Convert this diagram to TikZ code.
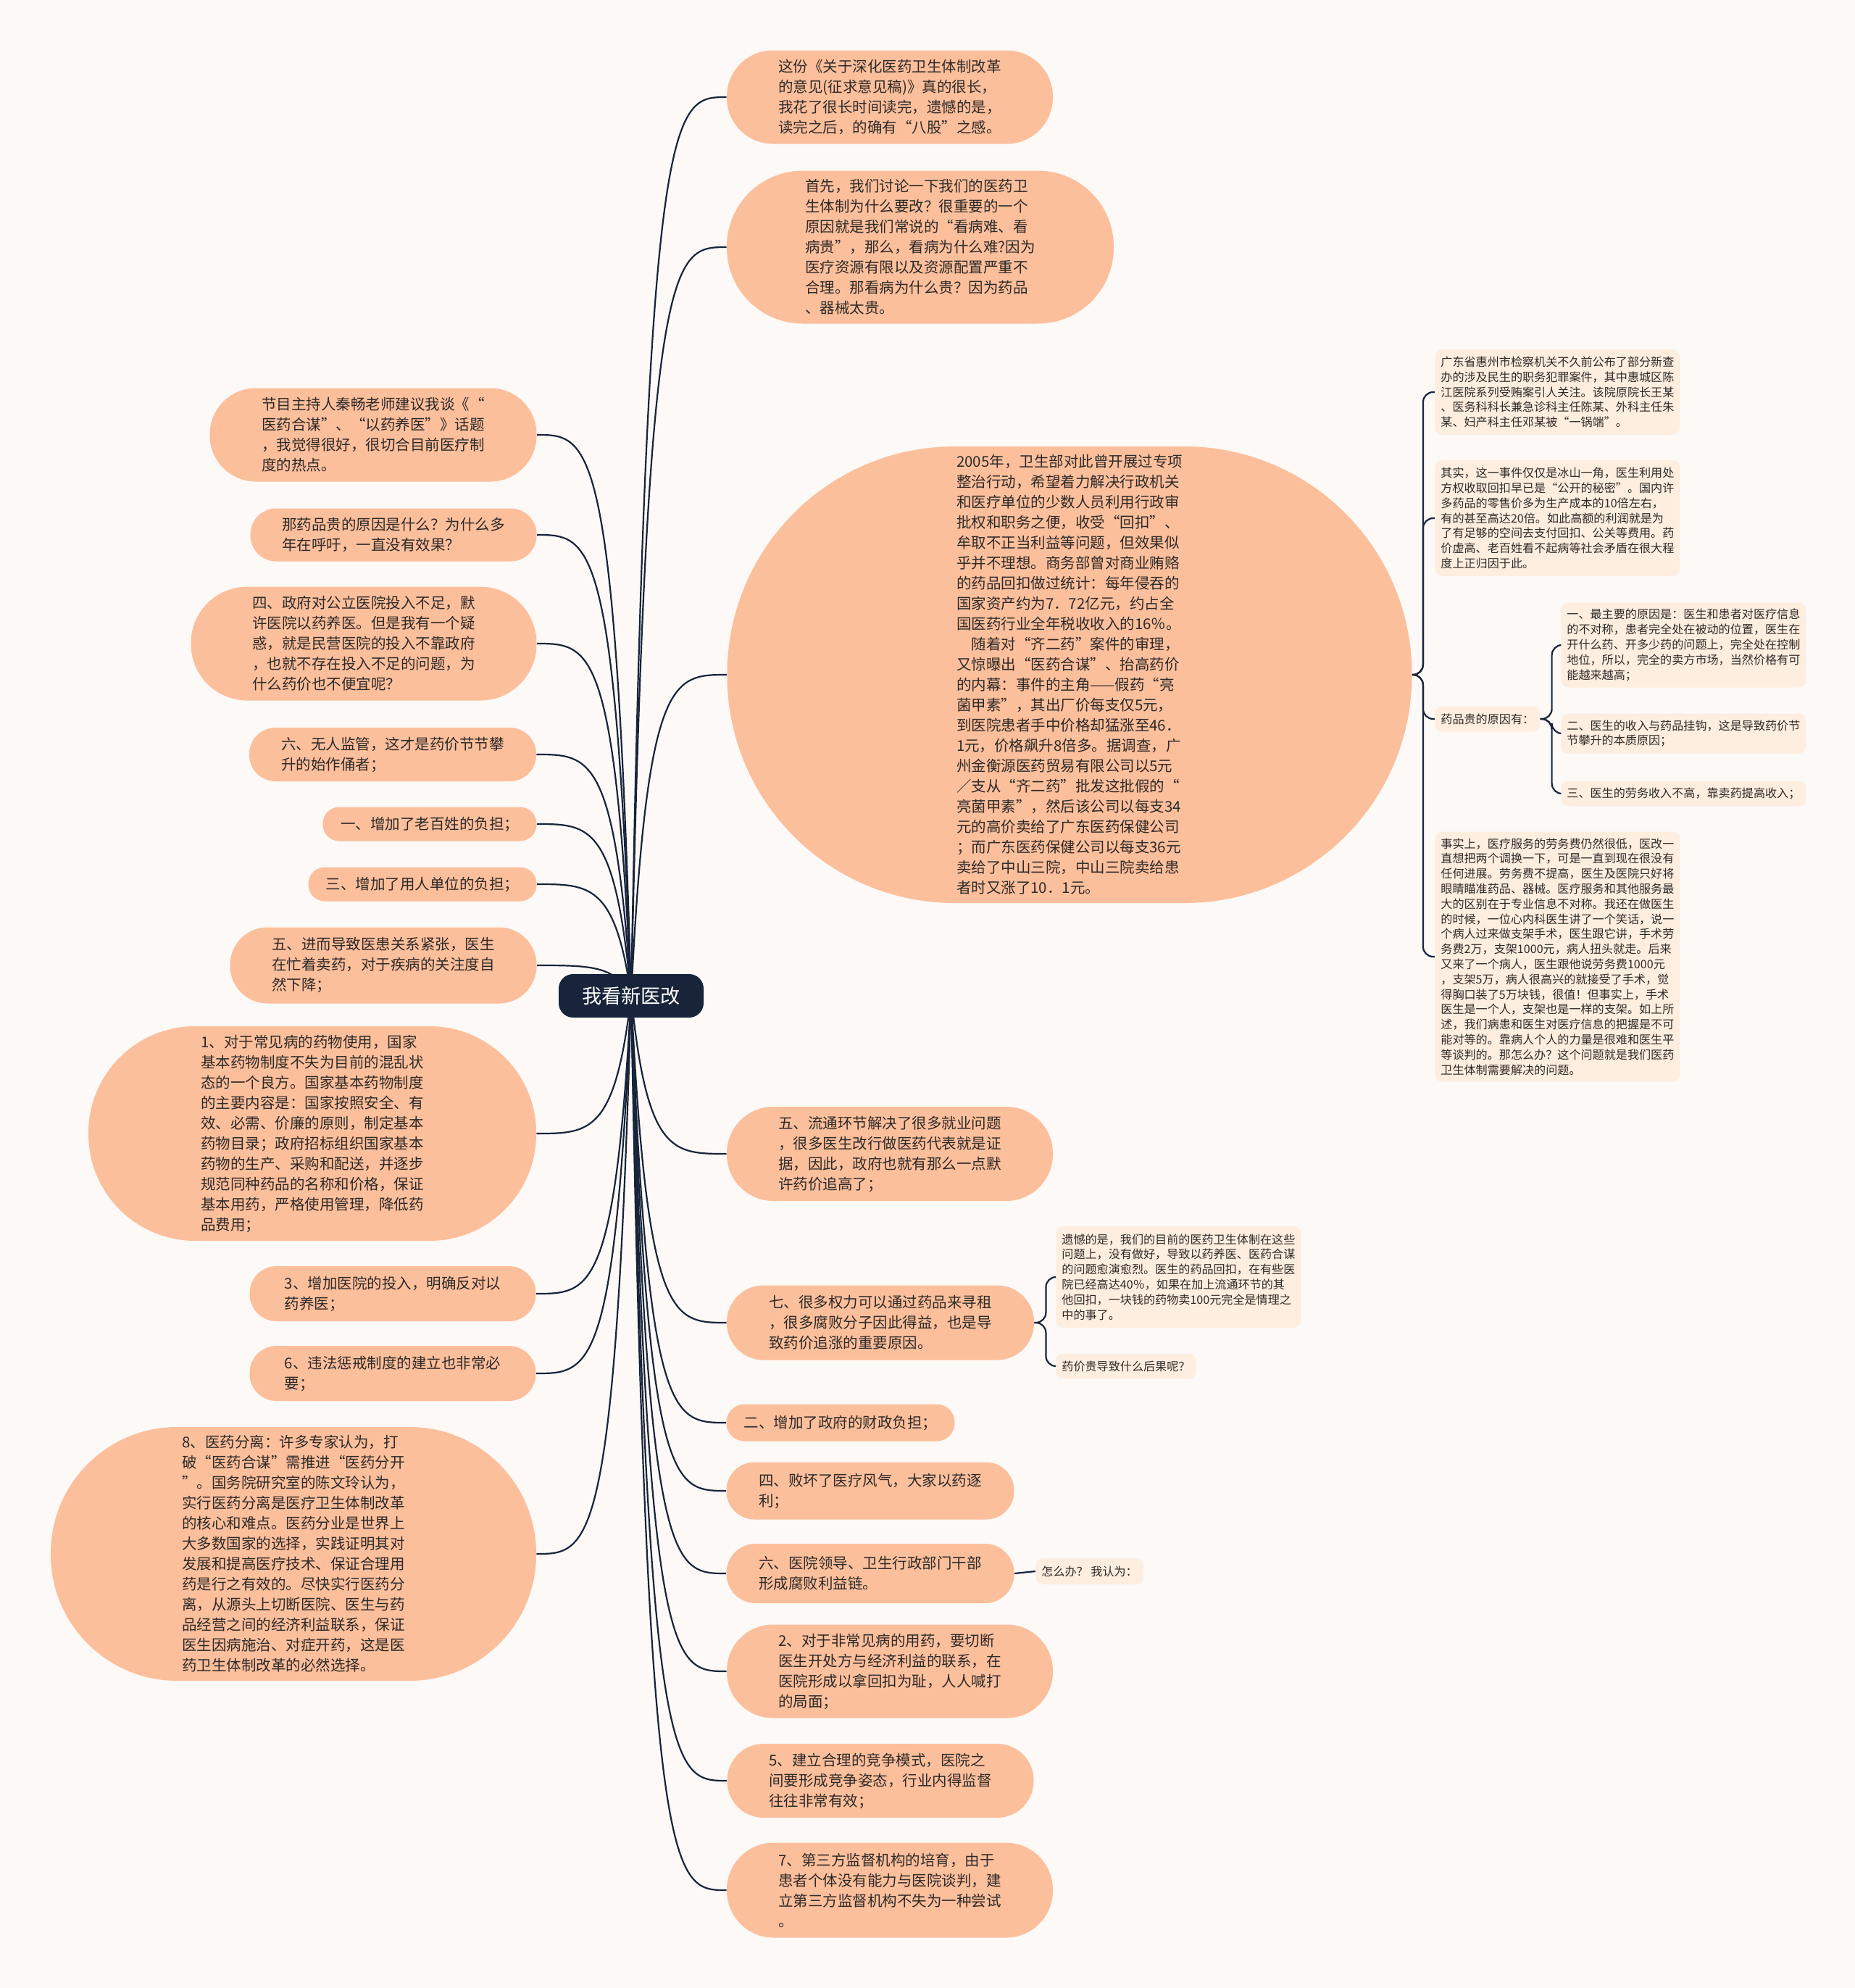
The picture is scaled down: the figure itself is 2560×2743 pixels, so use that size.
\documentclass[tikz,border=0pt]{standalone}
\usepackage{fontspec}
\setmainfont{Noto Sans CJK SC}
\usetikzlibrary{calc}
\definecolor{bgC}{HTML}{FCF9F7}
\definecolor{peach}{HTML}{FCBF9C}
\definecolor{lightC}{HTML}{FEEEDF}
\definecolor{rootC}{HTML}{17243A}
\definecolor{lineC}{HTML}{17243A}
\definecolor{txtC}{HTML}{2E2A28}
\newcommand\mainfs{\fontsize{10.25pt}{14pt}\selectfont}
\newcommand\smallfs{\fontsize{8.05pt}{10.4pt}\selectfont}
\newcommand\rootfs{\fontsize{13.6pt}{16pt}\selectfont}
\pgfdeclarelayer{back}
\pgfdeclarelayer{edges}
\pgfsetlayers{back,edges,main}
\tikzset{
  conn/.style={draw=lineC, line width=1.1pt},
  pk/.style n args={2}{fill=peach, text=txtC, font=\mainfs, align=left, inner sep=0pt,
    minimum width=#1*0.5pt, minimum height=#2*0.5pt, rounded corners=#2*0.25pt-0.4pt},
  lt/.style={fill=lightC, text=txtC, font=\smallfs, align=left, inner xsep=4pt, inner ysep=0pt,
    rounded corners=5pt, anchor=west, minimum height=#1*0.5pt},
  rootbox/.style={fill=rootC, text=white, font=\rootfs, inner sep=0pt,
    minimum width=100pt, minimum height=30pt, rounded corners=10pt},
}
\begin{document}
\begin{tikzpicture}[x=0.5pt,y=-0.5pt]
\useasboundingbox (0,0) rectangle (2560,2743);
\begin{pgfonlayer}{back}
\fill[bgC] (0,0) rectangle (2560,2743);
\end{pgfonlayer}

\node[rootbox] (root) at (871,1374) {我看新医改};

% right branches
\node[pk={450}{129}] (R1) at (1228,134) {这份《关于深化医药卫生体制改革\\的意见(征求意见稿)》真的很长，\\我花了很长时间读完，遗憾的是，\\读完之后，的确有“八股”之感。};
\node[pk={534}{211}] (R2) at (1270,341) {首先，我们讨论一下我们的医药卫\\生体制为什么要改？很重要的一个\\原因就是我们常说的“看病难、看\\病贵”，那么，看病为什么难?因为\\医疗资源有限以及资源配置严重不\\合理。那看病为什么贵？因为药品\\、器械太贵。};
\node[pk={945}{630}] (R3) at (1476,931) {2005年，卫生部对此曾开展过专项\\整治行动，希望着力解决行政机关\\和医疗单位的少数人员利用行政审\\批权和职务之便，收受“回扣”、\\牟取不正当利益等问题，但效果似\\乎并不理想。商务部曾对商业贿赂\\的药品回扣做过统计：每年侵吞的\\国家资产约为7．72亿元，约占全\\国医药行业全年税收收入的16％。\\　随着对“齐二药”案件的审理，\\又惊曝出“医药合谋”、抬高药价\\的内幕：事件的主角——假药“亮\\菌甲素”，其出厂价每支仅5元，\\到医院患者手中价格却猛涨至46．\\1元，价格飙升8倍多。据调查，广\\州金衡源医药贸易有限公司以5元\\／支从“齐二药”批发这批假的“\\亮菌甲素”，然后该公司以每支34\\元的高价卖给了广东医药保健公司\\；而广东医药保健公司以每支36元\\卖给了中山三院，中山三院卖给患\\者时又涨了10．1元。};
\node[pk={450}{130}] (R4) at (1228,1592) {五、流通环节解决了很多就业问题\\，很多医生改行做医药代表就是证\\据，因此，政府也就有那么一点默\\许药价追高了；};
\node[pk={424}{103}] (R5) at (1215,1825) {七、很多权力可以通过药品来寻租\\，很多腐败分子因此得益，也是导\\致药价追涨的重要原因。};
\node[pk={315}{51}] (R6) at (1160,1963) {二、增加了政府的财政负担；};
\node[pk={397}{79}] (R7) at (1201,2057) {四、败坏了医疗风气，大家以药逐\\利；};
\node[pk={397}{82}] (R8) at (1201,2171) {六、医院领导、卫生行政部门干部\\形成腐败利益链。};
\node[pk={450}{129}] (R9) at (1228,2306) {2、对于非常见病的用药，要切断\\医生开处方与经济利益的联系，在\\医院形成以拿回扣为耻，人人喊打\\的局面；};
\node[pk={423}{102}] (R10) at (1215,2457) {5、建立合理的竞争模式，医院之\\间要形成竞争姿态，行业内得监督\\往往非常有效；};
\node[pk={450}{131}] (R11) at (1228,2608) {7、第三方监督机构的培育，由于\\患者个体没有能力与医院谈判，建\\立第三方监督机构不失为一种尝试\\。};

% left branches
\node[pk={451}{129}] (L1) at (515,600) {节目主持人秦畅老师建议我谈《“\\医药合谋”、“以药养医”》话题\\，我觉得很好，很切合目前医疗制\\度的热点。};
\node[pk={395}{73}] (L2) at (543,738) {那药品贵的原因是什么？为什么多\\年在呼吁，一直没有效果？};
\node[pk={477}{157}] (L3) at (502,888) {四、政府对公立医院投入不足，默\\许医院以药养医。但是我有一个疑\\惑，就是民营医院的投入不靠政府\\，也就不存在投入不足的问题，为\\什么药价也不便宜呢？};
\node[pk={396}{74}] (L4) at (542,1041) {六、无人监管，这才是药价节节攀\\升的始作俑者；};
\node[pk={295}{47}] (L5) at (593,1137) {一、增加了老百姓的负担；};
\node[pk={315}{47}] (L6) at (583,1220) {三、增加了用人单位的负担；};
\node[pk={423}{105}] (L7) at (529,1332) {五、进而导致医患关系紧张，医生\\在忙着卖药，对于疾病的关注度自\\然下降；};
\node[pk={618}{296}] (L8) at (431,1564) {1、对于常见病的药物使用，国家\\基本药物制度不失为目前的混乱状\\态的一个良方。国家基本药物制度\\的主要内容是：国家按照安全、有\\效、必需、价廉的原则，制定基本\\药物目录；政府招标组织国家基本\\药物的生产、采购和配送，并逐步\\规范同种药品的名称和价格，保证\\基本用药，严格使用管理，降低药\\品费用；};
\node[pk={395}{76}] (L9) at (542,1785) {3、增加医院的投入，明确反对以\\药养医；};
\node[pk={395}{76}] (L10) at (542,1895) {6、违法惩戒制度的建立也非常必\\要；};
\node[pk={670}{350}] (L11) at (405,2144) {8、医药分离：许多专家认为，打\\破“医药合谋”需推进“医药分开\\”。国务院研究室的陈文玲认为，\\实行医药分离是医疗卫生体制改革\\的核心和难点。医药分业是世界上\\大多数国家的选择，实践证明其对\\发展和提高医疗技术、保证合理用\\药是行之有效的。尽快实行医药分\\离，从源头上切断医院、医生与药\\品经营之间的经济利益联系，保证\\医生因病施治、对症开药，这是医\\药卫生体制改革的必然选择。};

% second level (light boxes)
\node[lt=118] (S1) at (1980,541) {广东省惠州市检察机关不久前公布了部分新查\\办的涉及民生的职务犯罪案件，其中惠城区陈\\江医院系列受贿案引人关注。该院原院长王某\\、医务科科长兼急诊科主任陈某、外科主任朱\\某、妇产科主任邓某被“一锅端”。};
\node[lt=160] (S2) at (1980,715) {其实，这一事件仅仅是冰山一角，医生利用处\\方权收取回扣早已是“公开的秘密”。国内许\\多药品的零售价多为生产成本的10倍左右，\\有的甚至高达20倍。如此高额的利润就是为\\了有足够的空间去支付回扣、公关等费用。药\\价虚高、老百姓看不起病等社会矛盾在很大程\\度上正归因于此。};
\node[lt=35] (S3) at (1980,992) {药品贵的原因有：};
\node[lt=117] (S3a) at (2154,890) {一、最主要的原因是：医生和患者对医疗信息\\的不对称，患者完全处在被动的位置，医生在\\开什么药、开多少药的问题上，完全处在控制\\地位，所以，完全的卖方市场，当然价格有可\\能越来越高；};
\node[lt=55] (S3b) at (2154,1012) {二、医生的收入与药品挂钩，这是导致药价节\\节攀升的本质原因；};
\node[lt=35] (S3c) at (2154,1095) {三、医生的劳务收入不高，靠卖药提高收入；};
\node[lt=345] (S4) at (1980,1320) {事实上，医疗服务的劳务费仍然很低，医改一\\直想把两个调换一下，可是一直到现在很没有\\任何进展。劳务费不提高，医生及医院只好将\\眼睛瞄准药品、器械。医疗服务和其他服务最\\大的区别在于专业信息不对称。我还在做医生\\的时候，一位心内科医生讲了一个笑话，说一\\个病人过来做支架手术，医生跟它讲，手术劳\\务费2万，支架1000元，病人扭头就走。后来\\又来了一个病人，医生跟他说劳务费1000元\\，支架5万，病人很高兴的就接受了手术，觉\\得胸口装了5万块钱，很值！但事实上，手术\\医生是一个人，支架也是一样的支架。如上所\\述，我们病患和医生对医疗信息的把握是不可\\能对等的。靠病人个人的力量是很难和医生平\\等谈判的。那怎么办？这个问题就是我们医药\\卫生体制需要解决的问题。};
\node[lt=140] (T1) at (1457,1762) {遗憾的是，我们的目前的医药卫生体制在这些\\问题上，没有做好，导致以药养医、医药合谋\\的问题愈演愈烈。医生的药品回扣，在有些医\\院已经高达40％，如果在加上流通环节的其\\他回扣，一块钱的药物卖100元完全是情理之\\中的事了。};
\node[lt=35] (T2) at (1457,1885) {药价贵导致什么后果呢？};
\node[lt=36] (U1) at (1429,2168) {怎么办？ 我认为：};

\coordinate (rr) at (893,1374);
\coordinate (rr2) at (928,1374);
\coordinate (rl) at (849,1374);
\coordinate (rl2) at (814,1374);

\begin{pgfonlayer}{edges}
\foreach \n in {R1,R2,R3,R4,R5,R6,R7,R8,R9,R10,R11}
  \draw[conn] (root.center) .. controls (rr |- \n.west) and (rr2 |- \n.west) .. (\n.west);
\foreach \n in {L1,L2,L3,L4,L5,L6,L7,L8,L9,L10,L11}
  \draw[conn] (root.center) .. controls (rl |- \n.east) and (rl2 |- \n.east) .. (\n.east);
\foreach \n in {S1,S2,S3,S4}
  \draw[conn, rounded corners=7pt] (R3.east) -- ++(15,0) |- (\n.west);
\foreach \n in {S3a,S3b,S3c}
  \draw[conn, rounded corners=7pt] (S3.east) -- ++(16,0) |- (\n.west);
\foreach \n in {T1,T2}
  \draw[conn, rounded corners=7pt] (R5.east) -- ++(16,0) |- (\n.west);
\draw[conn] (R8.east) -- (U1.west);
\end{pgfonlayer}
\end{tikzpicture}
\end{document}
